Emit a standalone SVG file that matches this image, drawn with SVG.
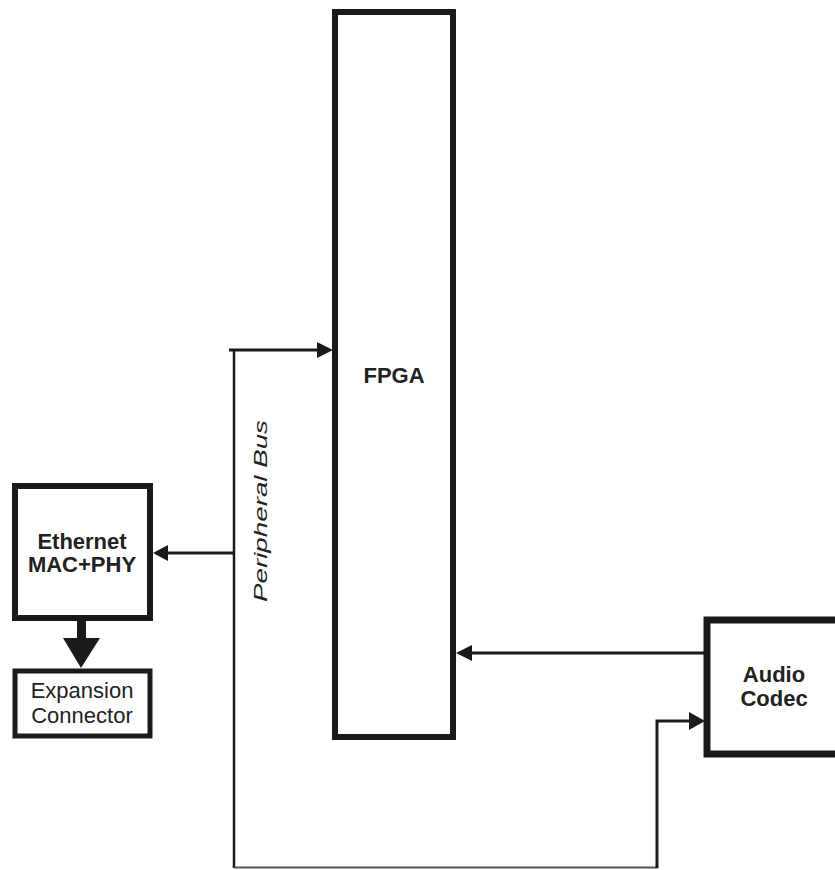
<svg xmlns="http://www.w3.org/2000/svg" width="835" height="870" viewBox="0 0 835 870">
<style>
.box{fill:#fff;stroke:#1a1a1a}
.lbl{font-family:"Liberation Sans",Arial,sans-serif;font-size:22px;fill:#222;text-anchor:middle}
.b{font-weight:bold}
.wire{fill:none;stroke:#1a1a1a;stroke-linecap:butt}
.head{fill:#1a1a1a}
</style>
<rect width="835" height="870" fill="#fff"/>
<g id="connectors">
  <path class="wire" d="M229 350 H320" stroke-width="3"/>
  <polygon class="head" points="317,342 333,350 317,358"/>
  <path class="wire" d="M234 350 V868" stroke-width="2.5"/>
  <path class="wire" d="M234 867.5 H658" stroke-width="2" style="stroke:#555"/>
  <path class="wire" d="M657 868 V721 H692" stroke-width="3"/>
  <polygon class="head" points="689,712 705,721 689,730"/>
  <path class="wire" d="M705 653 H468" stroke-width="3"/>
  <polygon class="head" points="472,645 456,653 472,661"/>
  <path class="wire" d="M234 553 H164" stroke-width="3"/>
  <polygon class="head" points="168,545 153,553 168,561"/>
  <rect class="head" x="77" y="620" width="9" height="20"/>
  <polygon class="head" points="63,638 100,638 81,668"/>
  <text class="lbl" transform="translate(267,511) rotate(-90)" style="font-size:19px;font-style:italic" textLength="182" lengthAdjust="spacingAndGlyphs">Peripheral Bus</text>
</g>
<g id="fpga">
  <rect class="box" x="335" y="12" width="118" height="725" stroke-width="6"/>
  <text class="lbl b" x="394" y="383">FPGA</text>
</g>
<g id="ethernet">
  <rect class="box" x="15" y="486" width="135" height="132" stroke-width="6"/>
  <text class="lbl b" x="82" y="549">Ethernet</text>
  <text class="lbl b" x="82" y="572">MAC+PHY</text>
</g>
<g id="expansion">
  <rect class="box" x="15" y="671" width="135" height="65" stroke-width="5"/>
  <text class="lbl" x="82" y="698">Expansion</text>
  <text class="lbl" x="82" y="723">Connector</text>
</g>
<g id="audio">
  <rect class="box" x="707" y="620" width="140" height="134" stroke-width="7"/>
  <text class="lbl b" x="774" y="682">Audio</text>
  <text class="lbl b" x="774" y="706">Codec</text>
</g>
</svg>
